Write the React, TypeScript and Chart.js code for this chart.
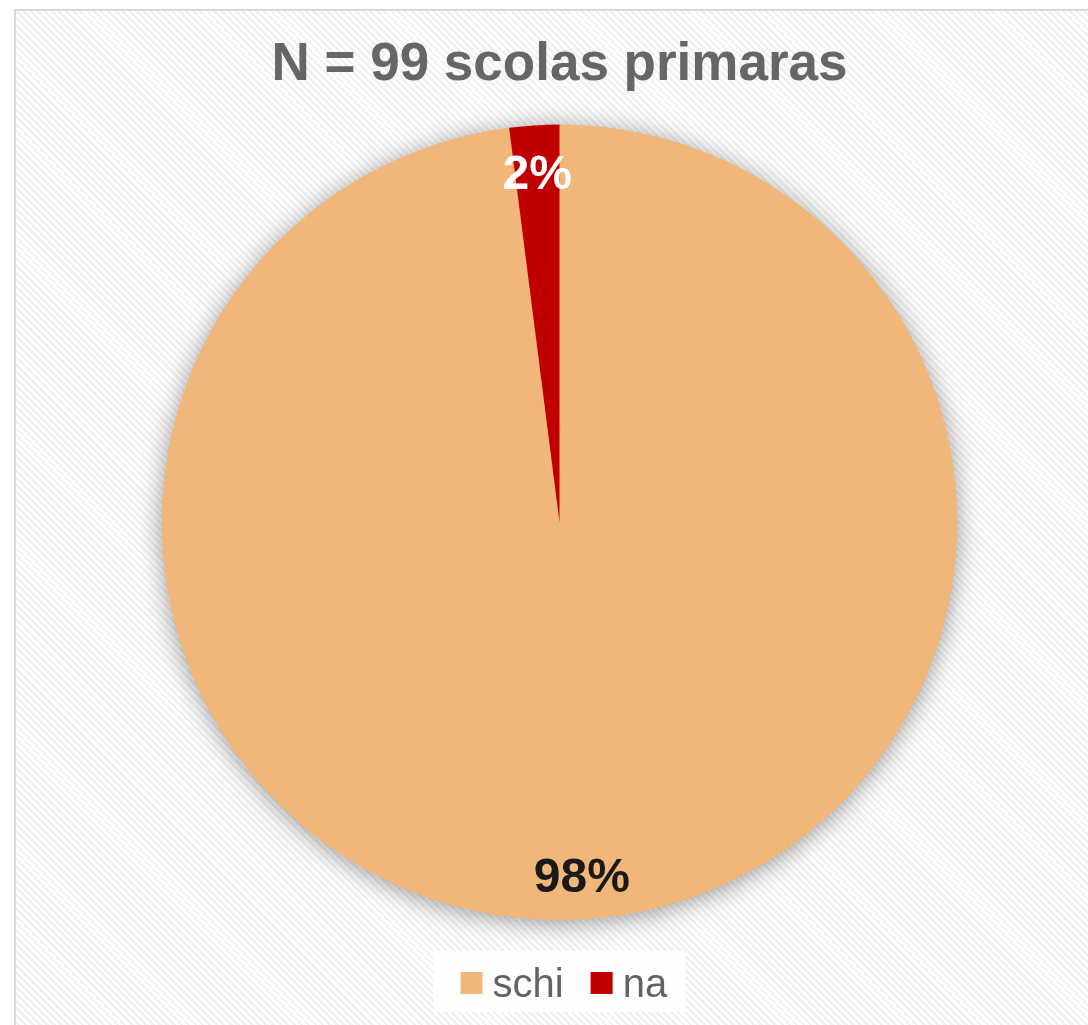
import React, { useEffect, useRef } from "react";
import { Chart, registerables } from "chart.js";

Chart.register(...registerables);

const titleText = "N = 99 scolas primaras";
const categories = ["schi", "na"];
const counts = [97, 2];
const sliceColors = ["#F1B67A", "#C00000"];
const labelColors = ["#1a1a1a", "#ffffff"];

const FONT = "'Liberation Sans', Arial, Helvetica, sans-serif";

const shadowPlugin = {
  id: "pieShadow",
  beforeDatasetsDraw(chart: any) {
    const meta = chart.getDatasetMeta(0);
    const arc = meta.data[0];
    if (!arc) return;
    const { x, y, outerRadius } = arc.getProps(["x", "y", "outerRadius"], true);
    const ctx = chart.ctx;
    ctx.save();
    ctx.shadowColor = "rgba(0,0,0,0.42)";
    ctx.shadowBlur = 26;
    ctx.shadowOffsetX = 0;
    ctx.shadowOffsetY = 3;
    ctx.beginPath();
    ctx.arc(x, y, outerRadius - 1, 0, Math.PI * 2);
    ctx.fillStyle = sliceColors[0];
    ctx.fill();
    ctx.restore();
  },
};

const labelPlugin = {
  id: "sliceLabels",
  afterDatasetsDraw(chart: any) {
    const meta = chart.getDatasetMeta(0);
    const data = chart.data.datasets[0].data as number[];
    const total = data.reduce((a, b) => a + b, 0);
    const ctx = chart.ctx;
    ctx.save();
    ctx.font = `bold 48px ${FONT}`;
    ctx.textAlign = "center";
    ctx.textBaseline = "middle";
    meta.data.forEach((arc: any, i: number) => {
      const { x, y, startAngle, endAngle, outerRadius } = arc.getProps(
        ["x", "y", "startAngle", "endAngle", "outerRadius"],
        true
      );
      const mid = (startAngle + endAngle) / 2;
      const r = outerRadius * 0.885;
      const pct = Math.round((data[i] / total) * 100);
      ctx.fillStyle = labelColors[i];
      ctx.fillText(pct + "%", x + Math.cos(mid) * r, y + Math.sin(mid) * r + 5);
    });
    ctx.restore();
  },
};

const legendPlugin = {
  id: "customLegend",
  afterDraw(chart: any) {
    const ctx = chart.ctx;
    const labels = chart.data.labels as string[];
    const colors = chart.data.datasets[0].backgroundColor as string[];
    const cx = (chart.chartArea.left + chart.chartArea.right) / 2;
    const boxW = 252;
    const boxH = 61;
    const boxX = cx - boxW / 2;
    const boxY = 951;
    ctx.save();
    ctx.fillStyle = "rgba(255,255,255,0.9)";
    ctx.fillRect(boxX, boxY, boxW, boxH);
    ctx.font = `40px ${FONT}`;
    ctx.textBaseline = "alphabetic";
    ctx.textAlign = "left";
    let x = boxX + 27;
    const sq = 22;
    labels.forEach((lab, i) => {
      ctx.fillStyle = colors[i];
      ctx.fillRect(x, 972, sq, sq);
      x += sq + 10;
      ctx.fillStyle = "#636363";
      ctx.fillText(lab, x, 997);
      x += ctx.measureText(lab).width + 27;
    });
    ctx.restore();
  },
};

export default function App() {
  const ref = useRef<HTMLCanvasElement>(null);
  useEffect(() => {
    if (!ref.current) return;
    const chart = new Chart(ref.current, {
      type: "pie",
      data: {
        labels: categories,
        datasets: [
          {
            data: counts,
            backgroundColor: sliceColors,
            borderWidth: 0,
            hoverOffset: 0,
          },
        ],
      },
      options: {
        responsive: false,
        animation: false,
        devicePixelRatio: 1,
        events: [],
        layout: { padding: { top: 0, bottom: 105, left: 31, right: 0 } },
        plugins: {
          legend: { display: false },
          tooltip: { enabled: false },
          title: {
            display: true,
            text: titleText,
            color: "#666666",
            font: { family: FONT, size: 53, weight: "bold" },
            padding: { top: 34, bottom: 27 },
          },
        },
      },
      plugins: [shadowPlugin, labelPlugin, legendPlugin],
    });
    return () => chart.destroy();
  }, []);

  return (
    <div style={{ position: "fixed", left: 0, top: 0, width: "100vw", height: "100vh", overflow: "hidden", background: "#fff" }}>
      <div
        style={{
          position: "absolute",
          left: 14,
          top: 9,
          width: 1200,
          height: 1200,
          border: "2px solid #d9d9d9",
          background:
            "repeating-linear-gradient(45deg, #ffffff 0px, #ffffff 2.5px, #f1f1f1 2.5px, #f1f1f1 5px)",
        }}
      />
      <canvas ref={ref} width={1088} height={1025} style={{ position: "absolute", left: 0, top: 0 }} />
    </div>
  );
}
